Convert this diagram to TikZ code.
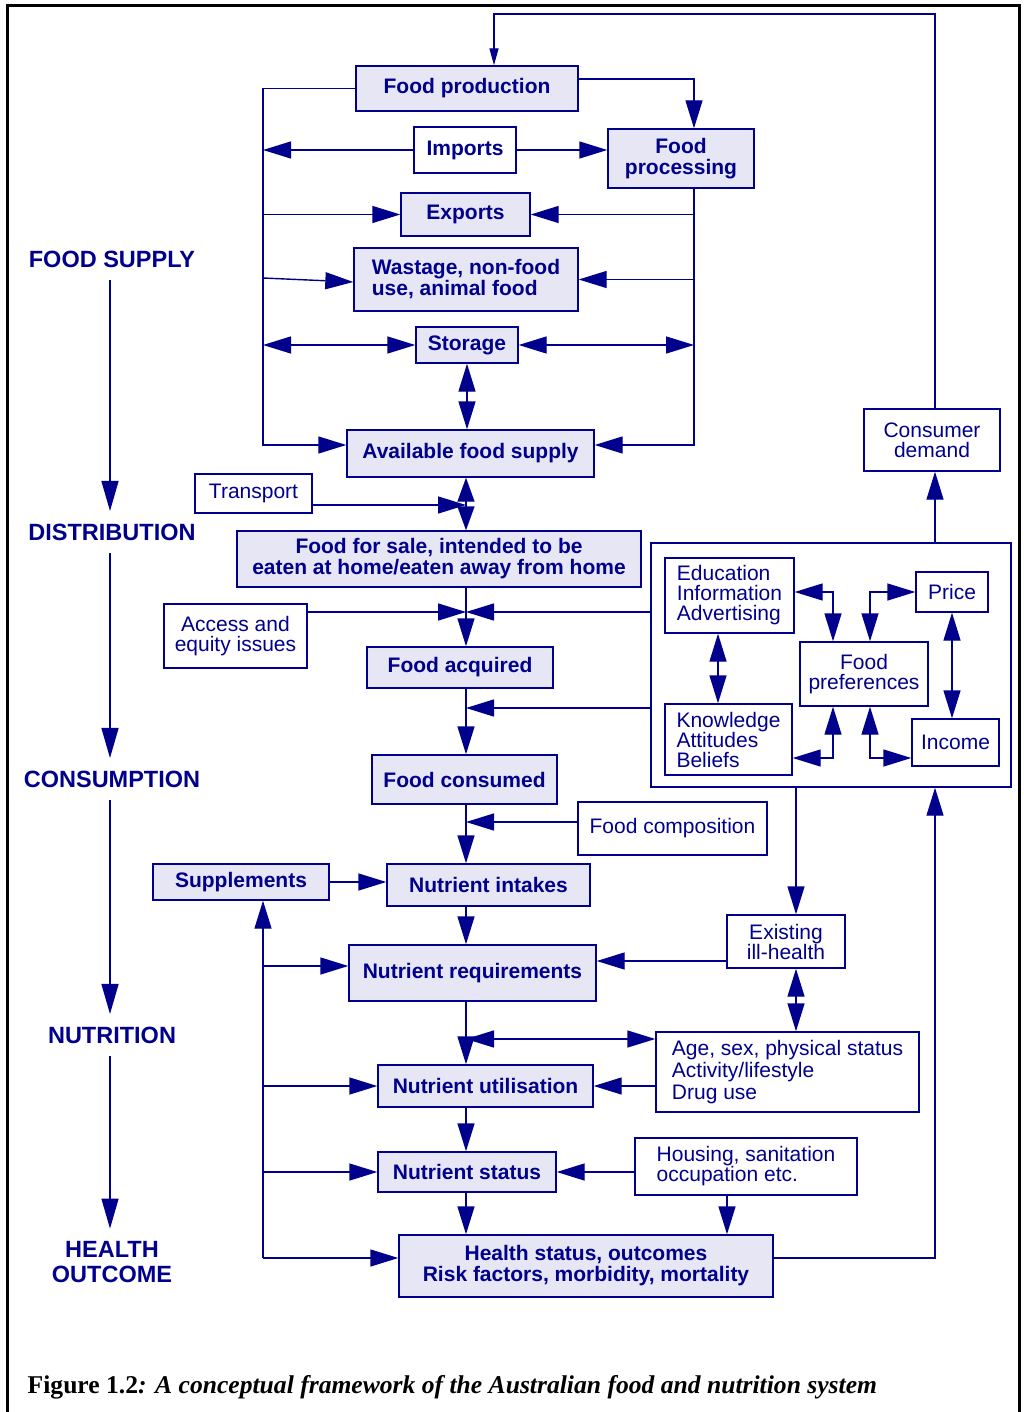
\documentclass[tikz,border=0pt]{standalone}
\usepackage{fontspec}
\setmainfont{Liberation Sans}
\newfontfamily\capfont{Liberation Serif}
\usetikzlibrary{arrows.meta}
\definecolor{ink}{RGB}{0,0,140}
\definecolor{boxfill}{RGB}{230,230,245}
\tikzset{
  box/.style={draw=ink, line width=1.4pt, inner sep=0pt, text=ink, align=center, font=\fontsize{21}{20}\selectfont},
  sbox/.style={box, fill=boxfill, font=\bfseries\fontsize{21}{21}\selectfont},
  wbox/.style={box, fill=white},
  wh/.style 2 args={minimum width=#1, minimum height=#2},
  stage/.style={text=ink, inner sep=0pt, align=center, font=\bfseries\fontsize{23.5}{25}\selectfont},
  stagearrow/.style={->, >={Triangle[length=30pt,width=17pt]}, shorten <=12pt, shorten >=12pt},
  shortheads/.style={>={Triangle[length=24pt,width=17pt]}},
}

\begin{document}
\begin{tikzpicture}[x=1pt, y=-1pt, color=ink, line width=1.4pt, >={Triangle[length=28pt,width=17pt]}]
\useasboundingbox (0,0) rectangle (1023,1412);
\draw[black, line width=3pt] (7,1440) -- (7,6) -- (1019,6) -- (1019,1440);

% stages on the left
\node[stage] (supply) at (112,259) {FOOD SUPPLY};
\node[stage] (distrib) at (112,532) {DISTRIBUTION};
\node[stage] (consum) at (112,779) {CONSUMPTION};
\node[stage] (nutri) at (112,1035) {NUTRITION};
\node[stage] (outcome) at (112,1262) {HEALTH\\OUTCOME};
\coordinate (stg) at (110,0);
\draw[stagearrow] (stg |- supply.south) -- (stg |- distrib.north);
\draw[stagearrow] (stg |- distrib.south) -- (stg |- consum.north);
\draw[stagearrow] (stg |- consum.south) -- (stg |- nutri.north);
\draw[stagearrow] (stg |- nutri.south) -- (stg |- outcome.north);

% food supply
\node[sbox, wh={222}{45}] (prod) at (467,88.5) {Food production};
\node[wbox, wh={102}{46}, font=\bfseries\fontsize{21}{21}\selectfont] (imports) at (465,150) {Imports};
\node[sbox, wh={146}{59}] (proc) at (681,158.5) {Food\\processing};
\node[sbox, wh={129}{43}] (exports) at (465.5,214.5) {Exports};
\node[sbox, wh={224}{63}, align=left] (waste) at (466,279.5) {Wastage, non-food\\use, animal food};
\node[sbox, wh={102}{36}] (storage) at (467,345) {Storage};
\node[sbox, wh={247}{47}] (avail) at (470.5,453.5) {Available food supply};

% distribution and consumption
\node[wbox, wh={117}{39}] (transport) at (253.5,493.5) {Transport};
\node[sbox, wh={404}{56}] (sale) at (439,559) {Food for sale, intended to be\\eaten at home/eaten away from home};
\node[wbox, wh={143}{64}] (access) at (235.5,636) {Access and\\equity issues};
\node[sbox, wh={186}{41}] (acquired) at (460,667.5) {Food acquired};
\node[sbox, wh={185}{49}] (consumed) at (464.5,779.5) {Food consumed};
\node[wbox, wh={189}{53}] (comp) at (672.5,828.5) {Food composition};

% nutrition and health
\node[sbox, wh={176}{36}] (supp) at (241,882) {Supplements};
\node[sbox, wh={203}{42}] (intakes) at (488.5,885) {Nutrient intakes};
\node[wbox, wh={118}{53}] (illhealth) at (786,941.5) {Existing\\ill-health};
\node[sbox, wh={247}{56}] (req) at (472.5,973) {Nutrient requirements};
\node[wbox, wh={263}{80}, align=left, font=\fontsize{21}{22}\selectfont] (age) at (787.5,1072) {Age, sex, physical status\\Activity/lifestyle\\Drug use};
\node[sbox, wh={215}{42}] (util) at (485.5,1086) {Nutrient utilisation};
\node[wbox, wh={222}{57}, align=left] (housing) at (746,1166.5) {Housing, sanitation\\occupation etc.};
\node[sbox, wh={178}{40}] (status) at (467,1172) {Nutrient status};
\node[sbox, wh={374}{62}] (health) at (586,1266) {Health status, outcomes\\Risk factors, morbidity, mortality};

% consumer side
\node[wbox, wh={136}{62}] (demand) at (932,440) {Consumer\\demand};
\node[box, wh={360}{244}] (bigbox) at (831,665) {};
\node[wbox, wh={129}{75}, align=left] (edu) at (729.5,595.5) {Education\\Information\\Advertising};
\node[wbox, wh={72}{40}] (price) at (952,592) {Price};
\node[wbox, wh={128}{64}] (pref) at (864,674) {Food\\preferences};
\node[wbox, wh={127}{71}, align=left] (know) at (728.5,739.5) {Knowledge\\Attitudes\\Beliefs};
\node[wbox, wh={87}{47}] (income) at (955.5,742.5) {Income};

% rails
\coordinate (lrail) at (263,0);
\coordinate (rrail) at (694,0);
\coordinate (spine) at (466,0);
\coordinate (ret) at (494,14);
\coordinate (irail) at (796,0);
\coordinate (hrail) at (727,0);
\coordinate (drail) at (935,0);
\coordinate (pl) at (833,0);
\coordinate (pr) at (870,0);
\coordinate (el) at (718,0);

% supply connectors
\draw[->, >={Triangle[length=17pt,width=9pt]}] (drail |- demand.north) |- (ret) -- (ret |- prod.north);
\draw[->] (prod.east |- 0,79) -| (rrail |- proc.north);
\draw[->] (prod.west) -| (lrail |- 0,445) -- (avail.west |- 0,445);
\draw[->] (imports.west) -- (lrail |- imports.west);
\draw[->] (imports.east) -- (proc.west |- imports.east);
\draw[->] (lrail |- exports.west) -- (exports.west);
\draw[->] (lrail |- 0,278) -- (waste.west |- 0,282);
\draw[<->] (lrail |- storage.west) -- (storage.west);
\draw[->] (rrail |- proc.south) -- (rrail |- 0,445) -- (avail.east |- 0,445);
\draw[->] (rrail |- exports.east) -- (exports.east);
\draw[->] (rrail |- waste.east) -- (waste.east);
\draw[<->] (storage.east) -- (rrail |- storage.east);
\draw[<->] (storage.south) -- (storage.south |- avail.north);

% distribution connectors
\draw[<->, shortheads] (spine |- avail.south) -- (spine |- sale.north);
\draw[->] (transport.east |- 0,505) -- (spine |- 0,505);
\draw[->] (spine |- sale.south) -- (spine |- acquired.north);
\draw[->] (access.east |- 0,612) -- (spine |- 0,612);
\draw[->] (bigbox.west |- 0,612) -- (spine |- 0,612);
\draw[->] (spine |- acquired.south) -- (spine |- consumed.north);
\draw[->] (bigbox.west |- 0,708) -- (spine |- 0,708);
\draw[->] (spine |- consumed.south) -- (spine |- intakes.north);
\draw[->] (comp.west |- 0,822) -- (spine |- 0,822);

% nutrition connectors
\draw[->] (supp.east) -- (intakes.west |- supp.east);
\draw[->] (spine |- intakes.south) -- (spine |- req.north);
\draw[->] (lrail |- 0,1258) -- (lrail |- supp.south);
\draw[->] (lrail |- 0,1258) -- (health.west |- 0,1258);
\draw[->] (lrail |- 0,966) -- (req.west |- 0,966);
\draw[->] (lrail |- util.west) -- (util.west);
\draw[->] (lrail |- status.west) -- (status.west);
\draw[->] (illhealth.west |- 0,961) -- (req.east |- 0,961);
\draw[->] (irail |- bigbox.south) -- (irail |- illhealth.north);
\draw[<->] (irail |- illhealth.south) -- (irail |- age.north);
\draw[->] (spine |- req.south) -- (spine |- util.north);
\draw[<->] (spine |- 0,1039) -- (age.west |- 0,1039);
\draw[->] (age.west |- util.east) -- (util.east);
\draw[->] (spine |- util.south) -- (spine |- status.north);
\draw[->] (housing.west |- status.east) -- (status.east);
\draw[->] (spine |- status.south) -- (spine |- health.north);
\draw[->] (hrail |- housing.south) -- (hrail |- health.north);
\draw[->] (health.east |- 0,1258) -| (drail |- bigbox.south);
\draw[->] (drail |- bigbox.north) -- (drail |- demand.south);

% inside the consumer box
\draw[<->] (edu.east |- 0,592) -| (pl |- pref.north);
\draw[<->] (price.west) -| (pr |- pref.north);
\draw[<->] (el |- edu.south) -- (el |- know.north);
\draw[<->] (price.south) -- (price.south |- income.north);
\draw[<->] (know.east |- 0,758) -| (pl |- pref.south);
\draw[<->] (income.west |- 0,758) -| (pr |- pref.south);

\node[anchor=base west, inner sep=0pt, text=black, font=\capfont\bfseries\fontsize{25.6}{26}\selectfont] (caption) at (27,1393) {Figure 1.2\textit{: A conceptual framework of the Australian food and nutrition system}};
\end{tikzpicture}
\end{document}
